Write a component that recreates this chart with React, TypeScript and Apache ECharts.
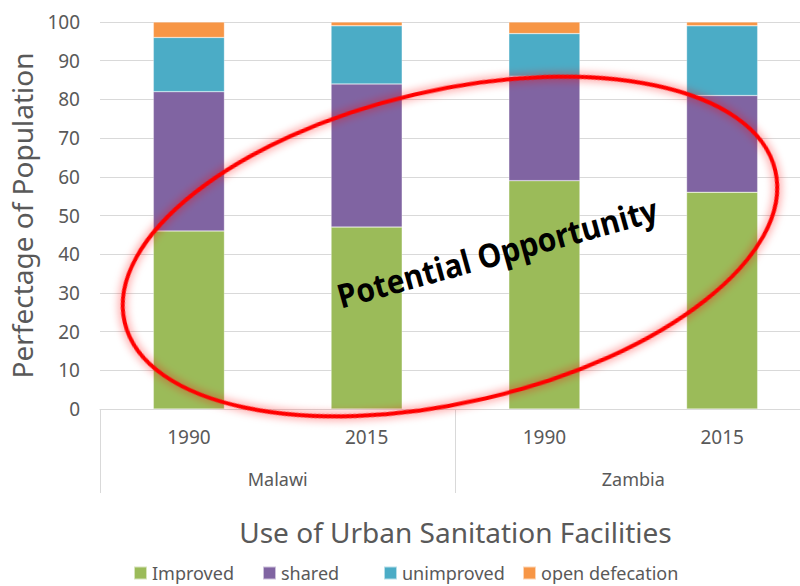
import React, { useEffect, useRef } from "react";
import * as echarts from "echarts";

const years = ["1990", "2015", "1990", "2015"];
const countries = ["Malawi", "Zambia"];
const seriesNames = ["Improved", "shared", "unimproved", "open defecation"];
const improved = [46, 47, 59, 56];
const shared = [36, 37, 27, 25];
const unimproved = [14, 15, 11, 18];
const openDefecation = [4, 1, 3, 1];
const yTicks = [0, 100, 10];

const FONT = "'Noto Sans', sans-serif";
const GREY = "#595959";
const legendLefts = [133, 262, 383, 522];

export default function App() {
  const ref = useRef<HTMLDivElement>(null);
  useEffect(() => {
    document.body.style.margin = "0";
    const chart = echarts.init(ref.current!, null, { renderer: "svg" });
    const colors = ["#9BBB59", "#8064A2", "#4BACC6", "#F79646"];
    const datas = [improved, shared, unimproved, openDefecation];
    chart.setOption({
      animation: false,
      textStyle: { fontFamily: FONT },
      grid: { left: 100, top: 22, width: 711, height: 387 },
      legend: seriesNames.map((n, i) => ({
        left: legendLefts[i],
        top: 564,
        padding: 0,
        itemWidth: 13,
        itemHeight: 13,
        itemGap: 0,
        icon: "rect",
        textStyle: { fontSize: 18, color: GREY, fontFamily: FONT },
        data: [n],
      })),
      xAxis: [
        {
          type: "category",
          data: years,
          position: "bottom",
          axisLine: { show: true, lineStyle: { color: "#d9d9d9" } },
          axisTick: { show: false },
          axisLabel: { color: GREY, fontSize: 19, margin: 18, fontFamily: FONT },
        },
        {
          type: "category",
          data: countries,
          position: "bottom",
          axisLine: { show: false },
          axisTick: { show: true, length: 84, lineStyle: { color: "#d9d9d9" } },
          axisLabel: { color: GREY, fontSize: 18, margin: 61, fontFamily: FONT },
          name: "Use of Urban Sanitation Facilities",
          nameLocation: "middle",
          nameGap: 109,
          nameTextStyle: { fontSize: 28, color: GREY, fontFamily: FONT },
        },
      ],
      yAxis: {
        type: "value",
        min: yTicks[0],
        max: yTicks[1],
        interval: yTicks[2],
        axisLine: { show: false },
        axisTick: { show: false },
        splitLine: { lineStyle: { color: "#d9d9d9", width: 1 } },
        axisLabel: { color: GREY, fontSize: 19, margin: 20, fontFamily: FONT },
        name: "Perfectage of Population",
        nameLocation: "middle",
        nameGap: 60,
        nameTextStyle: { fontSize: 28, color: GREY, fontFamily: FONT },
      },
      series: seriesNames.map((name, i) => ({
        name,
        type: "bar",
        stack: "total",
        data: datas[i],
        barWidth: "40%",
        itemStyle: { color: colors[i], borderColor: "rgba(255,255,255,0.6)", borderWidth: 0.5 },
      })),
      graphic: [
        {
          type: "ellipse",
          x: 450,
          y: 246.5,
          rotation: (13.1 * Math.PI) / 180,
          shape: { cx: 0, cy: 0, rx: 334, ry: 156 },
          style: {
            fill: "none",
            stroke: "#ff0000",
            lineWidth: 4,
            shadowBlur: 10,
            shadowColor: "rgba(255,0,0,0.7)",
          },
          z: 100,
        },
        {
          type: "text",
          x: 497,
          y: 252,
          rotation: (15.5 * Math.PI) / 180,
          scaleY: 1.1,
          style: {
            text: "Potential Opportunity",
            font: "bold 30px 'Open Sans', sans-serif",
            fill: "#000",
            align: "center",
            verticalAlign: "middle",
          },
          z: 101,
        },
      ],
    });
    return () => chart.dispose();
  }, []);
  return (
    <div style={{ width: 800, height: 586, overflow: "hidden" }}>
      <div ref={ref} style={{ width: 820, height: 586 }} />
    </div>
  );
}
